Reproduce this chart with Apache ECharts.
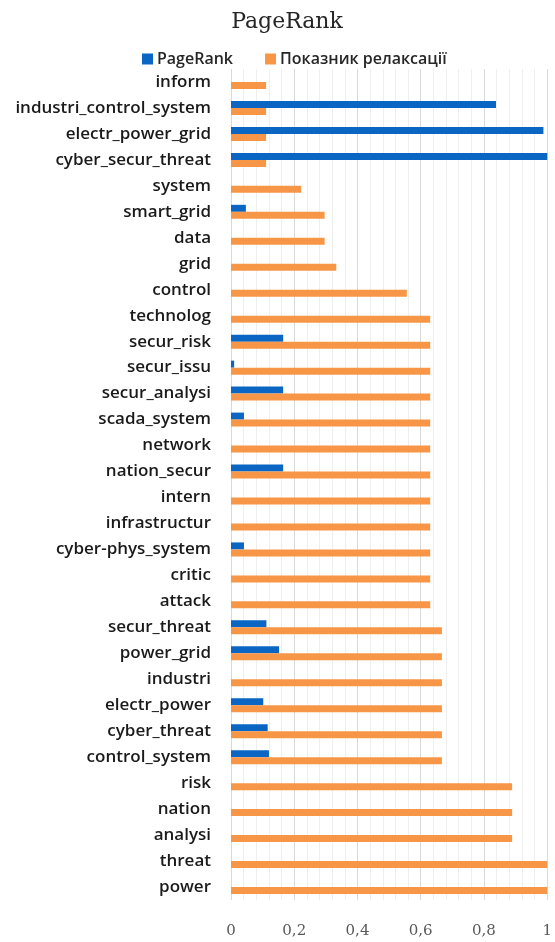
<!DOCTYPE html>
<html>
<head>
<meta charset="utf-8">
<title>PageRank</title>
<script src="https://cdn.jsdelivr.net/npm/echarts@6/dist/echarts.min.js"></script>
<style>
  html, body { margin: 0; padding: 0; background: #ffffff; }
  #chart { width: 555px; height: 942px; }
</style>
</head>
<body>
<div id="chart"></div>
<script>
// Keywords, listed top to bottom
const categories = [
  'inform', 'industri_control_system', 'electr_power_grid', 'cyber_secur_threat',
  'system', 'smart_grid', 'data', 'grid', 'control', 'technolog', 'secur_risk',
  'secur_issu', 'secur_analysi', 'scada_system', 'network', 'nation_secur',
  'intern', 'infrastructur', 'cyber-phys_system', 'critic', 'attack',
  'secur_threat', 'power_grid', 'industri', 'electr_power', 'cyber_threat',
  'control_system', 'risk', 'nation', 'analysi', 'threat', 'power'
];

// Normalised PageRank score per keyword
const pageRank = [
  0, 0.838, 0.988, 1.0,
  0, 0.047, 0, 0, 0, 0, 0.165,
  0.01, 0.165, 0.041, 0, 0.165,
  0, 0, 0.041, 0, 0,
  0.112, 0.152, 0, 0.102, 0.116,
  0.12, 0, 0, 0, 0, 0
];

// Relaxation index per keyword
const relaxation = [
  0.111, 0.111, 0.111, 0.111,
  0.222, 0.296, 0.296, 0.333, 0.556, 0.63, 0.63,
  0.63, 0.63, 0.63, 0.63, 0.63,
  0.63, 0.63, 0.63, 0.63, 0.63,
  0.667, 0.667, 0.667, 0.667, 0.667,
  0.667, 0.889, 0.889, 0.889, 1.0, 1.0
];

// Value axis tick labels (decimal comma)
const tickLabels = ['0', '0,2', '0,4', '0,6', '0,8', '1'];

const seriesNames = ['PageRank', 'Показник релаксації'];

const chart = echarts.init(document.getElementById('chart'), null, { renderer: 'canvas' });

chart.setOption({
  animation: false,
  backgroundColor: '#ffffff',
  title: {
    text: 'PageRank',
    left: 282,
    textAlign: 'center',
    top: 6,
    textStyle: {
      fontFamily: 'DejaVu Serif',
      fontSize: 22,
      fontWeight: 'normal',
      color: '#262626'
    }
  },
  legend: {
    data: seriesNames,
    top: 46,
    left: 137,
    itemWidth: 11,
    itemHeight: 11,
    itemGap: 32,
    icon: 'rect',
    textStyle: {
      fontFamily: 'Open Sans',
      fontSize: 16,
      fontWeight: 600,
      color: '#262626',
      padding: [0, 0, 0, -1]
    }
  },
  grid: {
    left: 231,
    right: 7,
    top: 69,
    bottom: 42,
    containLabel: false
  },
  xAxis: {
    type: 'value',
    min: 0,
    max: 1,
    interval: 0.2,
    axisLine: { show: false },
    axisTick: { show: false },
    axisLabel: {
      margin: 24,
      fontFamily: 'DejaVu Serif',
      fontSize: 15,
      color: '#595959',
      formatter: function (v) {
        return tickLabels[Math.round(v / 0.2)];
      }
    },
    splitLine: { show: true, lineStyle: { color: '#d9d9d9', width: 1 } },
    minorTick: { show: false, splitNumber: 5 },
    minorSplitLine: { show: true, lineStyle: { color: '#efefef', width: 1 } }
  },
  yAxis: {
    type: 'category',
    data: categories,
    inverse: true,
    axisLine: { show: false },
    axisTick: { show: false },
    axisLabel: {
      margin: 20,
      fontFamily: 'Open Sans',
      fontSize: 17,
      fontWeight: 600,
      color: '#1a1a1a'
    }
  },
  series: [
    {
      name: seriesNames[0],
      type: 'bar',
      data: pageRank,
      barWidth: 7,
      barGap: '0%',
      itemStyle: { color: '#0a66c2' }
    },
    {
      name: seriesNames[1],
      type: 'bar',
      data: relaxation,
      barWidth: 7,
      barGap: '0%',
      itemStyle: { color: '#f79646' }
    }
  ]
});
</script>
</body>
</html>
